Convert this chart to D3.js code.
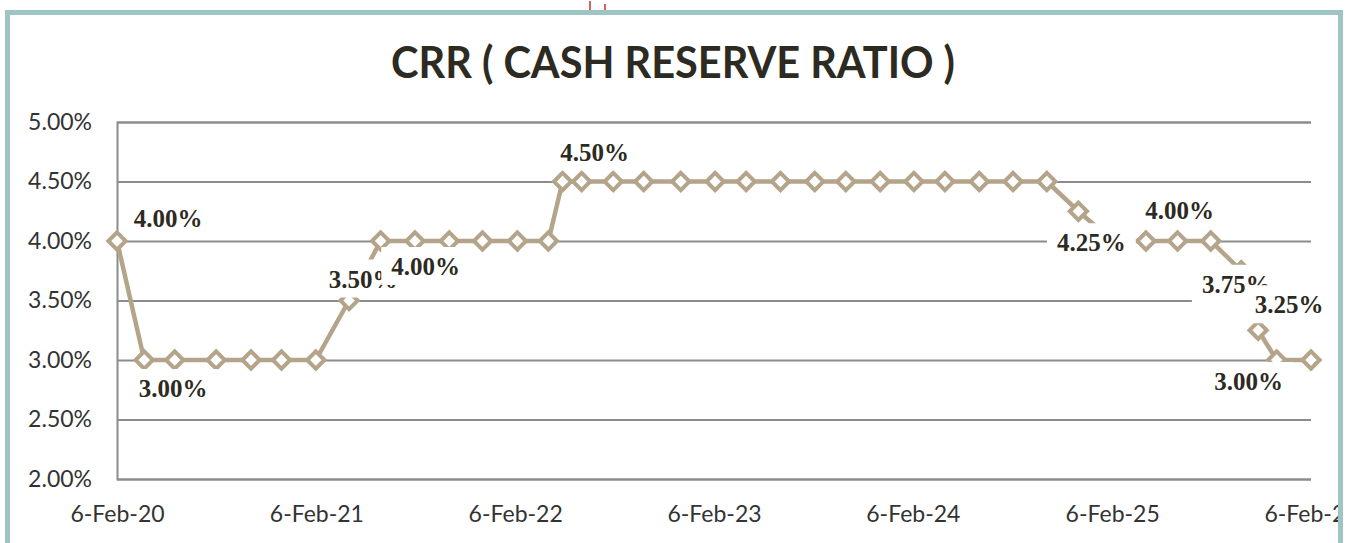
<!DOCTYPE html>
<html>
<head>
<meta charset="utf-8">
<script src="https://cdn.jsdelivr.net/npm/d3@7"></script>
<style>
    body { margin: 0; background: #ffffff; }
    svg { display: block; }
</style>
</head>
<body>
<div id="chart"></div>
<script>
// RBI policy dates and CRR (%)
const dates = [
    '2020-02-06', '2020-03-27', '2020-05-22', '2020-08-06', '2020-10-09', '2020-12-04',
    '2021-02-05', '2021-04-07', '2021-06-04', '2021-08-06', '2021-10-08', '2021-12-08',
    '2022-02-10', '2022-04-08', '2022-05-04', '2022-06-08', '2022-08-05', '2022-09-30',
    '2022-12-07', '2023-02-08', '2023-04-06', '2023-06-08', '2023-08-10', '2023-10-06',
    '2023-12-08', '2024-02-08', '2024-04-05', '2024-06-07', '2024-08-08', '2024-10-09',
    '2024-12-06', '2025-02-07', '2025-04-09', '2025-06-06', '2025-08-06', '2025-10-01',
    '2025-11-01', '2025-12-05', '2026-02-06'
];
const crr = [
    4.00, 3.00, 3.00, 3.00, 3.00, 3.00,
    3.00, 3.50, 4.00, 4.00, 4.00, 4.00,
    4.00, 4.00, 4.50, 4.50, 4.50, 4.50,
    4.50, 4.50, 4.50, 4.50, 4.50, 4.50,
    4.50, 4.50, 4.50, 4.50, 4.50, 4.50,
    4.25, 4.00, 4.00, 4.00, 4.00, 3.75,
    3.25, 3.00, 3.00
];
const xTicks = ['2020-02-06', '2021-02-06', '2022-02-06', '2023-02-06', '2024-02-06', '2025-02-06', '2026-02-06'];
const yTicks = [2.00, 2.50, 3.00, 3.50, 4.00, 4.50, 5.00];
const labelledPoints = [0, 1, 7, 8, 14, 30, 33, 35, 36, 37];

// label offsets from their point (text centre, baseline)
const labelOffsets = {
    0: [51, -14], 1: [29, 37], 7: [14, -13], 8: [45, 34], 14: [32, -21],
    30: [13, 40], 33: [2, -22], 35: [-5, 22], 36: [31, -17], 37: [-28, 30]
};

const parse = d3.timeParse('%Y-%m-%d');
const data = dates.map((d, i) => ({ date: parse(d), value: crr[i] }));

const width = 1350;
const height = 543;
const lineColor = '#b4a48a';
const textColor = '#2d2a22';

const svg = d3.select('#chart')
    .append('svg')
    .attr('width', width)
    .attr('height', height);

svg.append('clipPath')
    .attr('id', 'frameClip')
    .append('rect')
    .attr('x', 0)
    .attr('y', 0)
    .attr('width', 1338)
    .attr('height', height);

const root = svg.append('g').attr('clip-path', 'url(#frameClip)');

const x = d3.scaleTime()
    .domain([parse('2020-02-06'), parse('2026-02-06')])
    .range([117, 1311]);

const y = d3.scaleLinear()
    .domain([2, 5])
    .range([479, 122]);

// Titulo
root.append('text')
    .attr('x', 673)
    .attr('y', 78)
    .attr('text-anchor', 'middle')
    .attr('font-family', 'Lato, "Open Sans", sans-serif')
    .attr('font-weight', 'bold')
    .attr('font-size', '44px')
    .attr('textLength', 564)
    .attr('lengthAdjust', 'spacingAndGlyphs')
    .attr('fill', textColor)
    .text('CRR ( CASH RESERVE RATIO )');

// Eje Y con lineas de cuadricula
const yAxis = root.append('g')
    .attr('transform', 'translate(117,0)')
    .call(d3.axisLeft(y)
        .tickValues(yTicks)
        .tickSize(-(1311 - 117))
        .tickPadding(25)
        .tickFormat(d => d.toFixed(2) + '%'));

yAxis.select('.domain')
    .attr('stroke', '#8c8c8c')
    .attr('stroke-width', 2);

yAxis.selectAll('.tick line')
    .attr('stroke', '#8c8c8c')
    .attr('stroke-width', 2);

yAxis.selectAll('.tick text')
    .attr('font-family', 'Lato, sans-serif')
    .attr('font-size', '23px')
    .attr('fill', '#333333');

// Eje X
const xAxis = root.append('g')
    .attr('transform', 'translate(0,479)')
    .call(d3.axisBottom(x)
        .tickValues(xTicks.map(parse))
        .tickSize(0)
        .tickPadding(27)
        .tickFormat(d3.timeFormat('%-d-%b-%y')));

xAxis.select('.domain').remove();

xAxis.selectAll('.tick text')
    .attr('font-family', 'Lato, sans-serif')
    .attr('font-size', '23px')
    .attr('fill', '#333333');

// Linea
const line = d3.line()
    .x(d => x(d.date))
    .y(d => y(d.value));

root.append('path')
    .datum(data)
    .attr('d', line)
    .attr('fill', 'none')
    .attr('stroke', lineColor)
    .attr('stroke-width', 4.5)
    .attr('stroke-linejoin', 'round');

// Marcadores (rombos)
root.selectAll('.marker')
    .data(data)
    .enter()
    .append('path')
    .attr('class', 'marker')
    .attr('d', d3.symbol().type(d3.symbolDiamond2).size(190))
    .attr('transform', d => `translate(${x(d.date)},${y(d.value)})`)
    .attr('fill', '#ffffff')
    .attr('stroke', lineColor)
    .attr('stroke-width', 4);

// Etiquetas de datos con fondo blanco
labelledPoints.forEach(i => {
    const d = data[i];
    const [dx, dy] = labelOffsets[i];
    const cx = x(d.date) + dx;
    const by = y(d.value) + dy;

    const g = root.append('g');
    const box = g.append('rect').attr('fill', '#ffffff');
    const t = g.append('text')
        .attr('x', cx)
        .attr('y', by)
        .attr('text-anchor', 'middle')
        .attr('font-family', '"Liberation Serif", "DejaVu Serif", serif')
        .attr('font-weight', 'bold')
        .attr('font-size', '25px')
        .attr('fill', textColor)
        .text(d.value.toFixed(2) + '%');

    const w = t.node().getComputedTextLength();
    box.attr('x', cx - w / 2 - 10)
        .attr('y', by - 28)
        .attr('width', w + 20)
        .attr('height', 38);
});

// Marco
svg.append('path')
    .attr('d', 'M7.5,543 V12.5 H1340.5 V543')
    .attr('fill', 'none')
    .attr('stroke', '#9fc4c4')
    .attr('stroke-width', 5);

svg.append('path')
    .attr('d', 'M590,1 V10 M605,4 V10')
    .attr('fill', 'none')
    .attr('stroke', '#d0493f')
    .attr('stroke-width', 2)
    .attr('opacity', 0.85);
</script>
</body>
</html>
